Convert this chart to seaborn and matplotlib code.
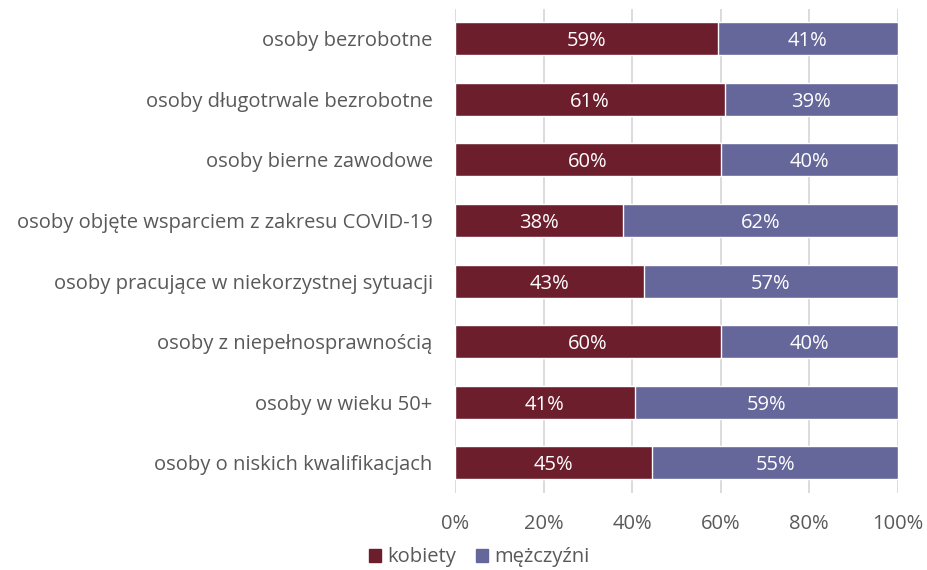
import matplotlib
matplotlib.use("Agg")
import matplotlib.pyplot as plt
import seaborn as sns
import pandas as pd
import numpy as np
from matplotlib.patches import Patch

categories = [
    "osoby bezrobotne",
    "osoby długotrwale bezrobotne",
    "osoby bierne zawodowe",
    "osoby objęte wsparciem z zakresu COVID-19",
    "osoby pracujące w niekorzystnej sytuacji",
    "osoby z niepełnosprawnością",
    "osoby w wieku 50+",
    "osoby o niskich kwalifikacjach",
]
kobiety = [59.3, 61.0, 60.1, 37.9, 42.6, 60.1, 40.6, 44.6]
mezczyzni = [40.7, 39.0, 39.9, 62.1, 57.4, 39.9, 59.4, 55.4]
series_names = ["kobiety", "mężczyźni"]
xticks = [0, 20, 40, 60, 80, 100]

c_k = "#6D1E2D"
c_m = "#65669A"
txt = "#595959"
fs = 14.5

sns.set_theme(style="white")
plt.rcParams["font.family"] = ["Open Sans", "DejaVu Sans"]

df = pd.DataFrame({"cat": categories, "k": kobiety, "m": mezczyzni})
df["total"] = df["k"] + df["m"]

fig = plt.figure(figsize=(9.27, 5.70), dpi=100)
ax = fig.add_axes([0.4908, 0.135, 0.4776, 0.85])

for x in xticks:
    ax.axvline(x, color="#D9D9D9", lw=1.3, zorder=0)

sns.barplot(data=df, y="cat", x="total", color=c_m, orient="h", width=0.545,
            saturation=1, ax=ax, zorder=2)
sns.barplot(data=df, y="cat", x="k", color=c_k, orient="h", width=0.545,
            saturation=1, ax=ax, zorder=3)

for i, (k, m) in enumerate(zip(kobiety, mezczyzni)):
    ax.text(k / 2, i, f"{round(k)}%", color="white", ha="center", va="center_baseline",
            fontsize=fs, zorder=4)
    ax.text(k + m / 2, i, f"{round(m)}%", color="white", ha="center", va="center_baseline",
            fontsize=fs, zorder=4)

ax.set_xlim(0, 100)
ax.set_ylim(7.5, -0.5)
ax.set_xticks(xticks)
ax.set_xticklabels([f"{x}%" for x in xticks], color=txt, fontsize=fs)
ax.tick_params(axis="y", labelsize=fs, labelcolor=txt, length=0, pad=16)
ax.tick_params(axis="x", length=0, pad=15)
ax.set_xlabel("")
ax.set_ylabel("")
for s in ax.spines.values():
    s.set_visible(False)

handles = [Patch(color=c_k, label=series_names[0]), Patch(color=c_m, label=series_names[1])]
fig.legend(handles=handles, loc="center", bbox_to_anchor=(0.517, 0.022), ncol=2,
           frameon=False, fontsize=fs, handlelength=0.6, handleheight=0.6,
           handletextpad=0.3, columnspacing=1.0, labelcolor=txt)

fig.savefig("out.png", dpi=100)
